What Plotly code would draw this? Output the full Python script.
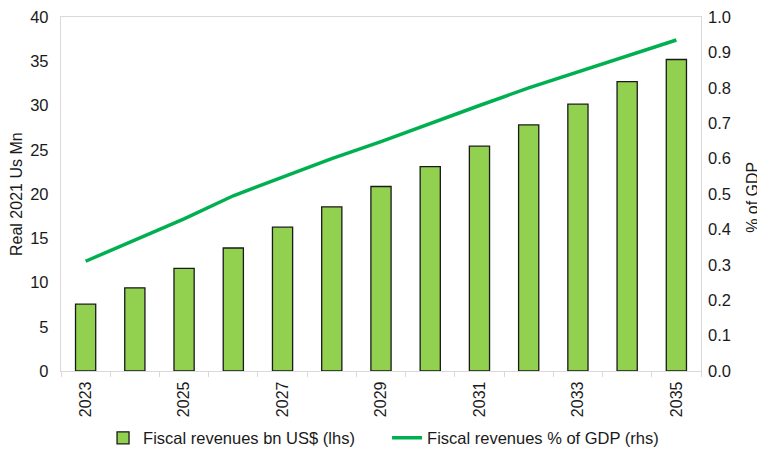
import plotly.graph_objects as go

# Fiscal revenue projections
years = [str(y) for y in range(2023, 2036)]
revenues_bn = [7.55, 9.4, 11.6, 13.9, 16.25, 18.55, 20.85, 23.1, 25.4, 27.8, 30.15, 32.7, 35.2]
revenues_pct_gdp = [0.31, 0.37, 0.43, 0.495, 0.547, 0.60, 0.648, 0.70, 0.75, 0.80, 0.845, 0.89, 0.935]
tick_labels = [y if i % 2 == 0 else "" for i, y in enumerate(years)]
left_ticks = list(range(0, 45, 5))
right_ticks = [i / 10 for i in range(0, 11)]

FONT = "Liberation Sans, Arial, sans-serif"
GRID = "#D9D9D9"

fig = go.Figure()
fig.add_trace(go.Bar(
    x=years, y=revenues_bn, name="Fiscal revenues bn US$ (lhs)",
    marker=dict(color="#92D050", line=dict(color="#1a1a1a", width=1.3)),
    yaxis="y",
))
fig.add_trace(go.Scatter(
    x=years, y=revenues_pct_gdp, name="Fiscal revenues % of GDP (rhs)",
    mode="lines", line=dict(color="#00B050", width=3.5),
    yaxis="y2",
))

fig.update_layout(
    width=757, height=453,
    margin=dict(l=61, r=56, t=17, b=82, autoexpand=False),
    paper_bgcolor="white", plot_bgcolor="white",
    font=dict(family=FONT, size=16, color="#1a1a1a"),
    bargap=0.59,
    showlegend=True,
    legend=dict(orientation="h", x=0.0657, xanchor="left", yref="container",
                y=0.033, yanchor="middle", font=dict(size=16.5),
                itemwidth=30, traceorder="normal",
                entrywidth=239, entrywidthmode="pixels"),
    xaxis=dict(
        type="category", tickmode="array", tickvals=years, ticktext=tick_labels,
        tickangle=-90, tickson="boundaries", ticks="outside", ticklen=5,
        tickcolor=GRID, showline=True, linecolor=GRID, linewidth=1.3, mirror=True,
        showgrid=False, tickfont=dict(size=16), automargin=False,
        ticklabelstandoff=3,
    ),
    yaxis=dict(
        range=[0, 40], tickvals=left_ticks, showgrid=False, zeroline=False,
        showline=True, linecolor=GRID, linewidth=1.3, mirror=True,
        ticks="", ticklabelstandoff=8, tickfont=dict(size=16.5), automargin=False,
    ),
    yaxis2=dict(
        range=[0, 1], tickvals=right_ticks, tickformat=".1f", overlaying="y",
        side="right", showgrid=False, zeroline=False, showline=False, ticks="",
        ticklabelstandoff=6, tickfont=dict(size=16.5), automargin=False,
    ),
    annotations=[
        dict(text="Real 2021 Us Mn", xref="paper", yref="paper", x=-0.0703, y=0.5,
             textangle=-90, showarrow=False, xanchor="center", yanchor="middle",
             font=dict(size=16)),
        dict(text="% of GDP", xref="paper", yref="paper", x=1.0802, y=0.49,
             textangle=-90, showarrow=False, xanchor="center", yanchor="middle",
             font=dict(size=16)),
    ],
)

fig.write_html("out.html")
